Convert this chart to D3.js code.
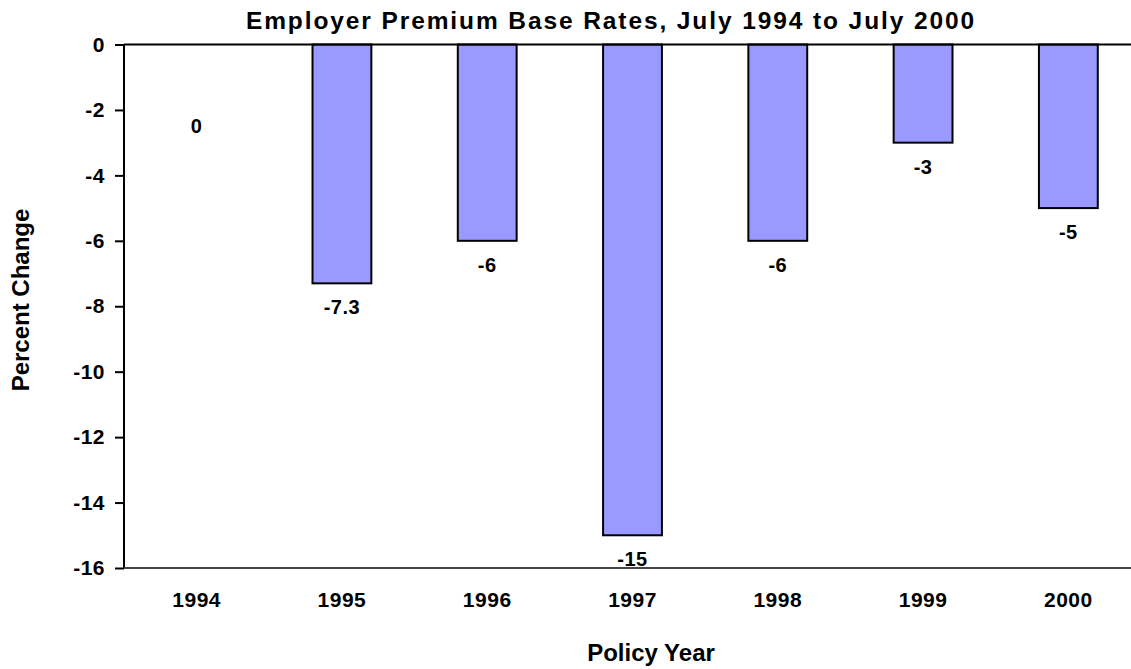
<!DOCTYPE html>
<html>
<head>
<meta charset="utf-8">
<script src="https://cdn.jsdelivr.net/npm/d3@7"></script>
<style>
  body { margin: 0; background: #fff; }
  svg text { font-family: "Liberation Sans", Arial, sans-serif; font-weight: bold; fill: #000; }
</style>
</head>
<body>
<svg id="chart" width="1131" height="669"></svg>
<script>
// values
var years = ["1994", "1995", "1996", "1997", "1998", "1999", "2000"];
var changes = [0, -7.3, -6, -15, -6, -3, -5];
var yTicks = [0, -2, -4, -6, -8, -10, -12, -14, -16];

var svg = d3.select("#chart");
var plotLeft = 124, plotRight = 1141, plotTop = 44.5, plotBottom = 568;

var x = d3.scaleBand().domain(years).range([plotLeft, plotRight]).paddingInner(0.595).paddingOuter(0.2975);
var y = d3.scaleLinear().domain([0, -16]).range([plotTop, plotBottom]);

// title
svg.append("text")
  .attr("x", 611).attr("y", 29)
  .attr("text-anchor", "middle")
  .style("font-size", "24.5px")
  .style("letter-spacing", "1.9px")
  .text("Employer Premium Base Rates, July 1994 to July 2000");

// bars
svg.selectAll("rect.bar")
  .data(changes)
  .enter().append("rect")
  .attr("class", "bar")
  .attr("x", function(d, i){ return x(years[i]); })
  .attr("y", y(0))
  .attr("width", x.bandwidth())
  .attr("height", function(d){ return y(d) - y(0); })
  .attr("fill", "#9999ff")
  .attr("stroke", "#000")
  .attr("stroke-width", 2);

// value labels (the zero label sits lower, as in the original)
svg.selectAll("text.val")
  .data(changes)
  .enter().append("text")
  .attr("class", "val")
  .attr("x", function(d, i){ return x(years[i]) + x.bandwidth() / 2; })
  .attr("y", function(d){ return d === 0 ? y(-2.5) + 7 : y(d) + 31; })
  .attr("text-anchor", "middle")
  .style("font-size", "20px")
  .style("letter-spacing", "0.5px")
  .text(function(d){ return String(d); });

// y axis (plain hyphen minus like the original)
var yAxis = svg.append("g")
  .attr("transform", "translate(" + plotLeft + ",0)")
  .call(d3.axisLeft(y).tickValues(yTicks).tickSize(9).tickPadding(10).tickFormat(function(d){ return String(d); }));
yAxis.selectAll("path, line").attr("stroke", "#000").attr("stroke-width", 2);
yAxis.select("path").attr("d", "M0," + plotTop + "V" + plotBottom);
yAxis.selectAll("text").style("font-size", "21px").style("letter-spacing", "0.5px").attr("font-family", null);

// top zero line
svg.append("line")
  .attr("x1", plotLeft).attr("x2", 1131)
  .attr("y1", y(0)).attr("y2", y(0))
  .attr("stroke", "#000").attr("stroke-width", 2);

// bottom category axis
var xAxis = svg.append("g")
  .attr("transform", "translate(0," + plotBottom + ")")
  .call(d3.axisBottom(x).tickSize(0).tickPadding(24));
xAxis.select("path").attr("d", "M" + plotLeft + ",0H1131").attr("stroke", "#444").attr("stroke-width", 2);
xAxis.selectAll("text").style("font-size", "21px").style("letter-spacing", "0.5px").attr("font-family", null);

// axis titles
svg.append("text")
  .attr("transform", "translate(29,300) rotate(-90)")
  .attr("text-anchor", "middle")
  .style("font-size", "24px")
  .text("Percent Change");

svg.append("text")
  .attr("x", 651).attr("y", 661)
  .attr("text-anchor", "middle")
  .style("font-size", "24px")
  .text("Policy Year");
</script>
</body>
</html>
